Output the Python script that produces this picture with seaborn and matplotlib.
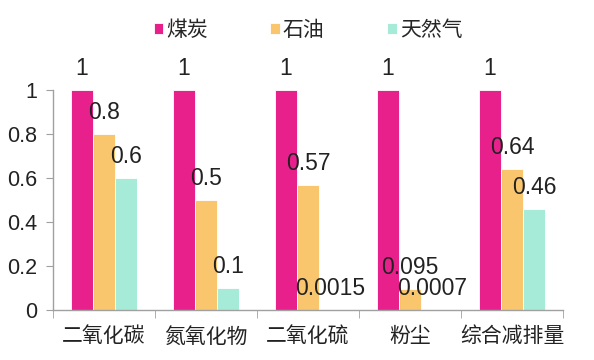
import matplotlib
matplotlib.use("Agg")
import matplotlib.pyplot as plt
import pandas as pd
import seaborn as sns

categories = ['二氧化碳', '氮氧化物', '二氧化硫', '粉尘', '综合减排量']
fuels = ['煤炭', '石油', '天然气']
coal = [1, 1, 1, 1, 1]
oil = [0.8, 0.5, 0.57, 0.095, 0.64]
gas = [0.6, 0.1, 0.0015, 0.0007, 0.46]
colors = ['#E8208C', '#F9C66E', '#A6EBD8']

rows = []
for fuel, vals in zip(fuels, [coal, oil, gas]):
    for cat, v in zip(categories, vals):
        rows.append({'category': cat, 'fuel': fuel, 'value': v})
df = pd.DataFrame(rows)

sns.set_style('white')
plt.rcParams['font.family'] = ['Liberation Sans', 'Noto Sans CJK SC']

fig = plt.figure(figsize=(5.94, 3.6), dpi=100)
ax = fig.add_axes([0.089, 0.139, 0.859, 0.611])

sns.barplot(data=df, x='category', y='value', hue='fuel', palette=colors,
            width=0.65, saturation=1, edgecolor='white', linewidth=0.6, ax=ax)

# value labels above every bar
for container, vals in zip(ax.containers, [coal, oil, gas]):
    for bar, v in zip(container, vals):
        ax.annotate(f'{v:g}', (bar.get_x() + bar.get_width() / 2, bar.get_height()),
                    xytext=(0, 7), textcoords='offset points',
                    ha='center', va='bottom', fontsize=16.5, color='#222222')

ax.set_ylim(0, 1)
ax.set_xlim(-0.5, len(categories) - 0.5)
ax.set_yticks([0, 0.2, 0.4, 0.6, 0.8, 1])
ax.set_yticklabels(['0', '0.2', '0.4', '0.6', '0.8', '1'])
ax.set_xlabel('')
ax.set_ylabel('')

for side in ['top', 'right']:
    ax.spines[side].set_visible(False)
for side in ['left', 'bottom']:
    ax.spines[side].set_color('#A0A0A0')
    ax.spines[side].set_linewidth(1)

# y ticks outward, x ticks at category boundaries
ax.tick_params(axis='y', direction='out', length=5, color='#A0A0A0',
               left=True, labelsize=15.5, labelcolor='#222222', pad=6)
ax.set_xticks([i - 0.5 for i in range(len(categories) + 1)], minor=True)
ax.tick_params(axis='x', which='minor', direction='out', length=6,
               color='#A0A0A0', bottom=True)
ax.tick_params(axis='x', which='major', length=0, labelsize=15,
               labelcolor='#222222', pad=12)

handles, labels = ax.get_legend_handles_labels()
ax.legend(handles, labels, loc='center', bbox_to_anchor=(0.5, 1.273),
          ncol=3, frameon=False, fontsize=15, handlelength=0.45,
          handleheight=0.45, handletextpad=0.15, columnspacing=3.0,
          borderpad=0)

fig.savefig('out.png', dpi=100)
